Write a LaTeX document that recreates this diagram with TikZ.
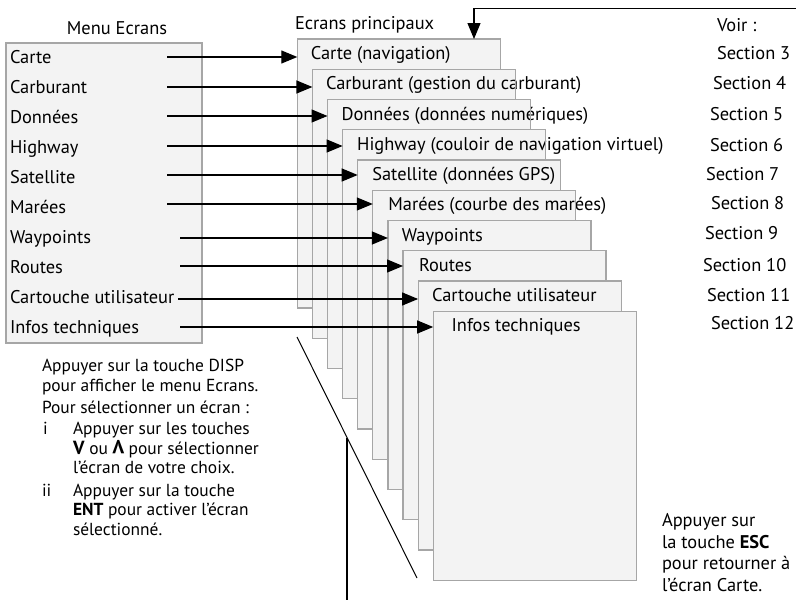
\documentclass[tikz,border=0pt]{standalone}
\usepackage{fontspec}
\setmainfont{PT Sans}
\usetikzlibrary{arrows.meta}
\definecolor{pagefill}{HTML}{F3F3F3}
\definecolor{pageborder}{HTML}{A6A6A6}
\begin{document}
\begin{tikzpicture}[x=1pt,y=-1pt,
  every node/.style={font=\fontsize{18.4}{21}\selectfont, inner sep=0pt, outer sep=0pt},
  box/.style={fill=pagefill, draw=pageborder, line width=1.2pt},
  edge/.style={draw=pageborder, line width=1.2pt},
  conn/.style={line width=1.2pt, -{Triangle[length=16pt,width=13pt]}},
  lbl/.style={anchor=base west},
  note/.style={anchor=base west, font=\fontsize{17.4}{20}\selectfont},
  thin/.style={line width=1pt},
]
\useasboundingbox (0,0) rectangle (796,600);

% menu box
\node[box, anchor=north west, minimum width=196pt, minimum height=300pt] (menu) at (6,43) {};
\node[anchor=base] (menutitle) at (117,34) {Menu Ecrans};
\node[lbl] (m1) at (10,63) {Carte};
\node[lbl] (m2) at (10,93) {Carburant};
\node[lbl] (m3) at (10,123) {Données};
\node[lbl] (m4) at (10,153) {Highway};
\node[lbl] (m5) at (10,183) {Satellite};
\node[lbl] (m6) at (10,213) {Marées};
\node[lbl] (m7) at (10,243) {Waypoints};
\node[lbl] (m8) at (10,273) {Routes};
\node[lbl] (m9) at (10,303) {Cartouche utilisateur};
\node[lbl] (m10) at (10,333) {Infos techniques};

% pages
\node[lbl] (ptitle) at (295,29) {Ecrans principaux};
\foreach \i/\t/\dx in {1/Carte (navigation)/13.5,
  2/Carburant (gestion du carburant)/13.7,
  3/Données (données numériques)/14,
  4/Highway (couloir de navigation virtuel)/14.6,
  5/Satellite (données GPS)/14.6,
  6/Marées (courbe des marées)/15.6,
  7/Waypoints/14,
  8/Routes/16,
  9/Cartouche utilisateur/14,
  10/Infos techniques/18.4}{
  \pgfmathsetmacro{\px}{297.3+15.1*(\i-1)}
  \pgfmathsetmacro{\py}{39+30.25*(\i-1)}
  \node[box, anchor=north west, minimum width=203pt, minimum height=269pt] (p\i) at (\px,\py) {};
  \node[lbl] (t\i) at ([xshift=\dx pt, yshift=-20.5pt]p\i.north west) {\t};
  \draw[edge] (p\i.north east) -- (p\i.south east);
}

% arrows
\coordinate (a1) at (167,57);
\coordinate (a2) at (167,87);
\coordinate (a3) at (167,116);
\coordinate (a4) at (167,146);
\coordinate (a5) at (167,175);
\coordinate (a6) at (167,204);
\coordinate (a7) at (180,238);
\coordinate (a8) at (180,266);
\coordinate (a9) at (178,299);
\coordinate (a10) at (180,327);
\foreach \i in {1,...,10}{
  \draw[conn] (a\i) -- (a\i -| p\i.west);
}

% return arrow
\coordinate (ret) at (796,8.3);
\coordinate (rt) at (474,39);
\draw[conn] (ret) -| (rt);

% see sections
\node[lbl] (voir) at (717,31) {Voir :};
\node[lbl] (s3) at (717,59) {Section 3};
\node[lbl] (s4) at (713,89) {Section 4};
\node[lbl] (s5) at (710,120) {Section 5};
\node[lbl] (s6) at (710,151) {Section 6};
\node[lbl] (s7) at (706,180) {Section 7};
\node[lbl] (s8) at (711,209) {Section 8};
\node[lbl] (s9) at (705,239) {Section 9};
\node[lbl] (s10) at (703,271) {Section 10};
\node[lbl] (s11) at (707,301) {Section 11};
\node[lbl] (s12) at (711,329) {Section 12};

% left instructions
\node[note] (l1) at (42,371) {Appuyer sur la touche DISP};
\node[note] (l2) at (42,391) {pour afficher le menu Ecrans.};
\node[note] (l3) at (42,413) {Pour sélectionner un écran :};
\node[note] (l4a) at (43,434) {i};
\node[note] (l4) at (73,434) {Appuyer sur les touches};
\node[note] (l5) at (73,454) {{\fontsize{19}{20}\selectfont\textbf{V}} ou {\fontsize{19}{20}\selectfont\textbf{\rotatebox[origin=c]{180}{V}}} pour sélectionner};
\node[note] (l6) at (73,473) {l’écran de votre choix.};
\node[note] (l7a) at (42,496) {ii};
\node[note] (l7) at (73,496) {Appuyer sur la touche};
\node[note] (l8) at (73,515.5) {\textbf{ENT} pour activer l’écran};
\node[note] (l9) at (73,535) {sélectionné.};

% right instructions
\node[lbl] (r1) at (662,526) {Appuyer sur};
\node[lbl] (r2) at (662,548) {la touche \textbf{ESC}};
\node[lbl] (r3) at (662,569) {pour retourner à};
\node[lbl] (r4) at (662,591) {l’écran Carte.};

% diagonal and vertical lines
\coordinate (d1) at (297,337);
\coordinate (d2) at (417,578);
\coordinate (v1) at (347,438);
\coordinate (v2) at (347,600);
\draw[thin] (d1) -- (d2);
\draw[thin, line width=1.2pt] (v1) -- (v2);
\end{tikzpicture}
\end{document}
